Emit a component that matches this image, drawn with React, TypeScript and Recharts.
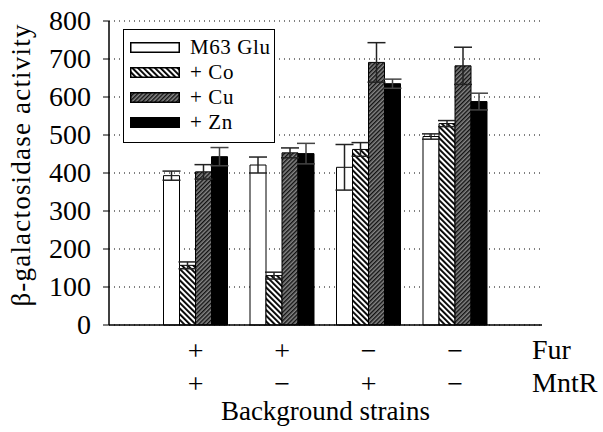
import React from 'react';
import { BarChart, Bar, XAxis, YAxis, CartesianGrid, ErrorBar, Legend, Label } from 'recharts';

const strains = ['S1', 'S2', 'S3', 'S4'];
const furState = ['+', '+', '−', '−'];
const mntrState = ['+', '−', '+', '−'];

const glu = [393, 421, 415, 496];
const gluErr = [12, 21, 60, 7];
const co = [157, 130, 462, 530];
const coErr = [9, 9, 18, 8];
const cu = [403, 453, 691, 682];
const cuErr = [19, 13, 52, 49];
const zn = [443, 451, 635, 588];
const znErr = [24, 27, 12, 22];

const yTicks = [0, 100, 200, 300, 400, 500, 600, 700, 800];
const seriesNames = ['M63 Glu', '+ Co', '+ Cu', '+ Zn'];

const data = strains.map((s, i) => ({
  strain: s,
  glu: glu[i],
  gluErr: gluErr[i],
  co: co[i],
  coErr: coErr[i],
  cu: cu[i],
  cuErr: cuErr[i],
  zn: zn[i],
  znErr: znErr[i],
}));

const serif = 'Liberation Serif';

// fill patterns, defined once for the chart and once per legend swatch
function Patterns({ prefix }: { prefix: string }) {
  return (
    <defs>
      <pattern id={`${prefix}co`} width="4" height="4" patternUnits="userSpaceOnUse" patternTransform="rotate(-45)">
        <rect width="4" height="4" fill="#fff" />
        <rect width="1.9" height="4" fill="#000" />
      </pattern>
      <pattern id={`${prefix}cu`} width="3" height="3" patternUnits="userSpaceOnUse" patternTransform="rotate(45)">
        <rect width="3" height="3" fill="#858585" />
        <rect width="1.4" height="3" fill="#111" />
      </pattern>
    </defs>
  );
}

const fills = ['#fff', 'url(#pco)', 'url(#pcu)', '#000'];
const legendFill = (i: number) =>
  i === 0 ? '#fff' : i === 1 ? `url(#l${i}co)` : i === 2 ? `url(#l${i}cu)` : '#000';

function PatternLegend() {
  return (
    <div
      style={{
        width: 152,
        height: 114,
        boxSizing: 'border-box',
        border: '1.5px solid #000',
        background: '#fff',
        paddingTop: 5,
        fontFamily: serif,
        fontSize: 21,
        letterSpacing: 0.6,
        color: '#000',
      }}
    >
      {seriesNames.map((name, i) => (
        <div key={name} style={{ display: 'flex', alignItems: 'center', height: 25, paddingLeft: 6 }}>
          <svg width={50} height={11}>
            <Patterns prefix={`l${i}`} />
            <rect x={0.75} y={0.75} width={48.5} height={9.5} fill={legendFill(i)} stroke="#000" strokeWidth={1.5} />
          </svg>
          <span style={{ marginLeft: 10 }}>{name}</span>
        </div>
      ))}
    </div>
  );
}

function StrainTick(props: any) {
  const { x, y, payload } = props;
  const i = strains.indexOf(payload.value);
  return (
    <g>
      <text x={x} y={y + 27} textAnchor="middle" fontFamily={serif} fontSize={28} fill="#000">{furState[i]}</text>
      <text x={x} y={y + 60} textAnchor="middle" fontFamily={serif} fontSize={28} fill="#000">{mntrState[i]}</text>
    </g>
  );
}

function YTick(props: any) {
  const { x, y, payload } = props;
  return (
    <text x={x} y={y} dy={9} textAnchor="end" fontFamily={serif} fontSize={28} fill="#000">
      {payload.value}
    </text>
  );
}

export default function App() {
  return (
    <div
      style={{
        position: 'absolute',
        left: 0,
        top: 0,
        width: 603,
        height: 432,
        background: '#fff',
      }}
    >
      <BarChart
        width={603}
        height={432}
        data={data}
        margin={{ top: 21, right: 61, bottom: 0, left: 0 }}
        barCategoryGap={11}
        barGap={0}
      >
        <Patterns prefix="p" />
        <CartesianGrid vertical={false} stroke="#000" strokeDasharray="1 4" />
        <XAxis
          dataKey="strain"
          height={107}
          padding={{ left: 43.5, right: 43.5 }}
          axisLine={{ stroke: '#000', strokeWidth: 1.5 }}
          tickLine={false}
          tick={<StrainTick />}
          interval={0}
        >
          <Label
            value="Background strains"
            position="insideBottom"
            offset={12}
            fontFamily={serif}
            fontSize={27}
            fill="#000"
          />
        </XAxis>
        <XAxis xAxisId="top" orientation="top" height={0} tick={false} tickLine={false} axisLine={{ stroke: '#000', strokeWidth: 1.5 }} />
        <YAxis
          width={109}
          domain={[0, 800]}
          ticks={yTicks}
          interval={0}
          axisLine={{ stroke: '#000', strokeWidth: 1.5 }}
          tickLine={{ stroke: '#000' }}
          tickSize={6}
          tickMargin={12}
          tick={<YTick />}
          label={{
            content: ({ viewBox }: any) => (
              <text
                x={viewBox.x + 30}
                y={viewBox.y + viewBox.height / 2 - 8}
                transform={`rotate(-90 ${viewBox.x + 30} ${viewBox.y + viewBox.height / 2 - 8})`}
                textAnchor="middle"
                fontFamily={serif}
                fontSize={27}
                letterSpacing={1.2}
                fill="#000"
              >
                β-galactosidase activity
              </text>
            ),
          }}
        />
        <YAxis yAxisId="right" orientation="right" width={0} domain={[0, 800]} tick={false} tickLine={false} axisLine={{ stroke: '#555' }} />
        <Legend
          layout="vertical"
          align="center"
          verticalAlign="middle"
          content={<PatternLegend />}
          wrapperStyle={{ left: 123, top: 29, width: 152, height: 114 }}
        />
        <Bar dataKey="glu" name={seriesNames[0]} fill={fills[0]} stroke="#000" strokeWidth={1} isAnimationActive={false}>
          <ErrorBar dataKey="gluErr" width={9} stroke="#222" strokeWidth={1.5} />
        </Bar>
        <Bar dataKey="co" name={seriesNames[1]} fill={fills[1]} stroke="#000" strokeWidth={1} isAnimationActive={false}>
          <ErrorBar dataKey="coErr" width={9} stroke="#222" strokeWidth={1.5} />
        </Bar>
        <Bar dataKey="cu" name={seriesNames[2]} fill={fills[2]} stroke="#000" strokeWidth={1} isAnimationActive={false}>
          <ErrorBar dataKey="cuErr" width={9} stroke="#222" strokeWidth={1.5} />
        </Bar>
        <Bar dataKey="zn" name={seriesNames[3]} fill={fills[3]} stroke="#000" strokeWidth={1} isAnimationActive={false}>
          <ErrorBar dataKey="znErr" width={9} stroke="#444" strokeWidth={1.5} />
        </Bar>
      </BarChart>
      <div style={{ position: 'absolute', left: 532, top: 336, fontFamily: serif, fontSize: 28, lineHeight: '28px', color: '#000' }}>
        Fur
      </div>
      <div style={{ position: 'absolute', left: 532, top: 369, fontFamily: serif, fontSize: 28, lineHeight: '28px', color: '#000' }}>
        MntR
      </div>
    </div>
  );
}
